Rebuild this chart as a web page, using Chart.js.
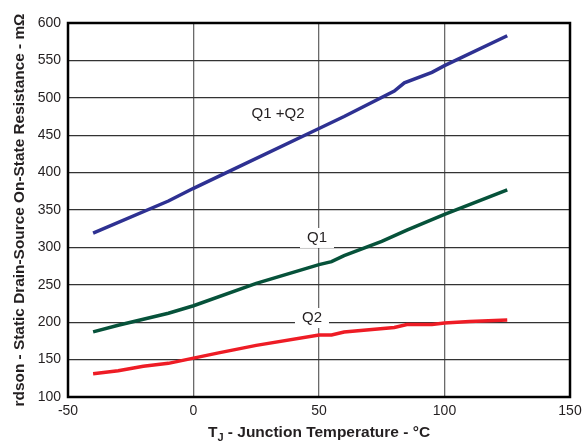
<!DOCTYPE html>
<html>
<head>
<meta charset="utf-8">
<script src="https://cdn.jsdelivr.net/npm/chart.js@4/dist/chart.umd.min.js"></script>
<style>
  body { margin: 0; background: #fff; }
  #wrap { width: 582px; height: 441px; position: relative; }
</style>
</head>
<body>
<div id="wrap"><canvas id="rdsonChart"></canvas></div>
<script>
// Temperature (°C) and rdson (mOhm)
const q12Temps  = [-40, -10, 0, 15, 50, 60, 80, 84, 95, 100, 125];
const q12Values = [319, 362, 379, 403, 459, 475, 509, 520, 534, 543, 583];

const q1Temps  = [-40, -30, -10, 0, 25, 50, 55, 60, 75, 85, 100, 125];
const q1Values = [187, 196, 212, 222, 252, 277, 281, 289, 308, 323, 344, 377];

const q2Temps  = [-40, -30, -20, -10, 0, 10, 25, 50, 55, 60, 80, 85, 95, 100, 110, 125];
const q2Values = [131, 135, 141, 145, 152, 159, 169, 183, 183, 187, 193, 197, 197, 199, 201, 203];

const xTicks = [-50, 0, 50, 100, 150];
const yTicks = [100, 150, 200, 250, 300, 350, 400, 450, 500, 550, 600];

// curve labels: text, temperature, value
const curveLabels = [
    { text: 'Q1 +Q2', x: 33.7, y: 479, box: false },
    { text: 'Q1', x: 49.2, y: 312.6, box: true },
    { text: 'Q2', x: 47.2, y: 205.6, box: true }
];

function toPoints(xs, ys) {
    return xs.map((x, i) => ({ x: x, y: ys[i] }));
}

const textColor = '#231F20';
const tickFont = { family: 'Liberation Sans, Arial, sans-serif', size: 14 };

const annotate = {
    id: 'annotate',
    afterDatasetsDraw(chart) {
        const ctx = chart.ctx;
        const xs = chart.scales.x, ys = chart.scales.y;
        const area = chart.chartArea;
        ctx.save();

        // curve labels
        ctx.font = '15px Liberation Sans, Arial, sans-serif';
        ctx.textAlign = 'center';
        ctx.textBaseline = 'middle';
        curveLabels.forEach(l => {
            const px = xs.getPixelForValue(l.x);
            const py = ys.getPixelForValue(l.y);
            if (l.box) {
                const w = ctx.measureText(l.text).width;
                ctx.fillStyle = '#fff';
                ctx.fillRect(px - w / 2 - 7, py - 10, w + 14, 20);
            }
            ctx.fillStyle = textColor;
            ctx.fillText(l.text, px, py);
        });

        // plot frame
        ctx.strokeStyle = '#000';
        ctx.lineWidth = 2.5;
        ctx.strokeRect(area.left, area.top, area.right - area.left, area.bottom - area.top);

        // x axis title with subscript J
        const bold = 'bold 15.5px Liberation Sans, Arial, sans-serif';
        const boldSub = 'bold 11px Liberation Sans, Arial, sans-serif';
        const partA = 'T', partB = 'J', partC = ' - Junction Temperature - °C';
        ctx.font = bold;
        const wA = ctx.measureText(partA).width;
        const wC = ctx.measureText(partC).width;
        ctx.font = boldSub;
        const wB = ctx.measureText(partB).width;
        let x0 = (area.left + area.right) / 2 - (wA + wB + wC) / 2;
        const base = 437;
        ctx.textAlign = 'left';
        ctx.textBaseline = 'alphabetic';
        ctx.fillStyle = textColor;
        ctx.font = bold;
        ctx.fillText(partA, x0, base);
        ctx.font = boldSub;
        ctx.fillText(partB, x0 + wA, base + 4);
        ctx.font = bold;
        ctx.fillText(partC, x0 + wA + wB, base);
        ctx.restore();
    }
};

new Chart(document.getElementById('rdsonChart'), {
    type: 'line',
    data: {
        datasets: [
            {
                label: 'Q1 +Q2',
                data: toPoints(q12Temps, q12Values),
                borderColor: '#2E3192',
                borderWidth: 3.5,
                pointRadius: 0,
                tension: 0
            },
            {
                label: 'Q1',
                data: toPoints(q1Temps, q1Values),
                borderColor: '#06523A',
                borderWidth: 3.5,
                pointRadius: 0,
                tension: 0
            },
            {
                label: 'Q2',
                data: toPoints(q2Temps, q2Values),
                borderColor: '#EE1C25',
                borderWidth: 3.5,
                pointRadius: 0,
                tension: 0
            }
        ]
    },
    options: {
        responsive: true,
        maintainAspectRatio: false,
        animation: false,
        layout: { padding: { top: 23, right: 12, left: 0, bottom: 0 } },
        plugins: {
            legend: { display: false },
            tooltip: { enabled: false }
        },
        scales: {
            x: {
                type: 'linear',
                min: -50,
                max: 150,
                afterBuildTicks: s => { s.ticks = xTicks.map(v => ({ value: v })); },
                afterFit: s => { s.height = 44; s.paddingLeft = 0; s.paddingRight = 0; },
                ticks: { color: textColor, font: tickFont, padding: 6, maxRotation: 0 },
                grid: { color: '#6a6a6a', lineWidth: 1.3, drawTicks: false },
                border: { display: false }
            },
            y: {
                min: 100,
                max: 600,
                afterBuildTicks: s => { s.ticks = yTicks.map(v => ({ value: v })); },
                afterFit: s => { s.width = 68; s.paddingTop = 0; s.paddingBottom = 0; },
                ticks: { color: textColor, font: tickFont, padding: 7 },
                grid: { color: '#333', lineWidth: 1.3, drawTicks: false },
                border: { display: false },
                title: {
                    display: true,
                    text: 'rdson - Static Drain-Source On-State Resistance - mΩ',
                    color: textColor,
                    font: { family: 'Liberation Sans, Arial, sans-serif', size: 15.4, weight: 'bold' },
                    padding: { top: 11, bottom: 0 }
                }
            }
        }
    },
    plugins: [annotate]
});
</script>
</body>
</html>
